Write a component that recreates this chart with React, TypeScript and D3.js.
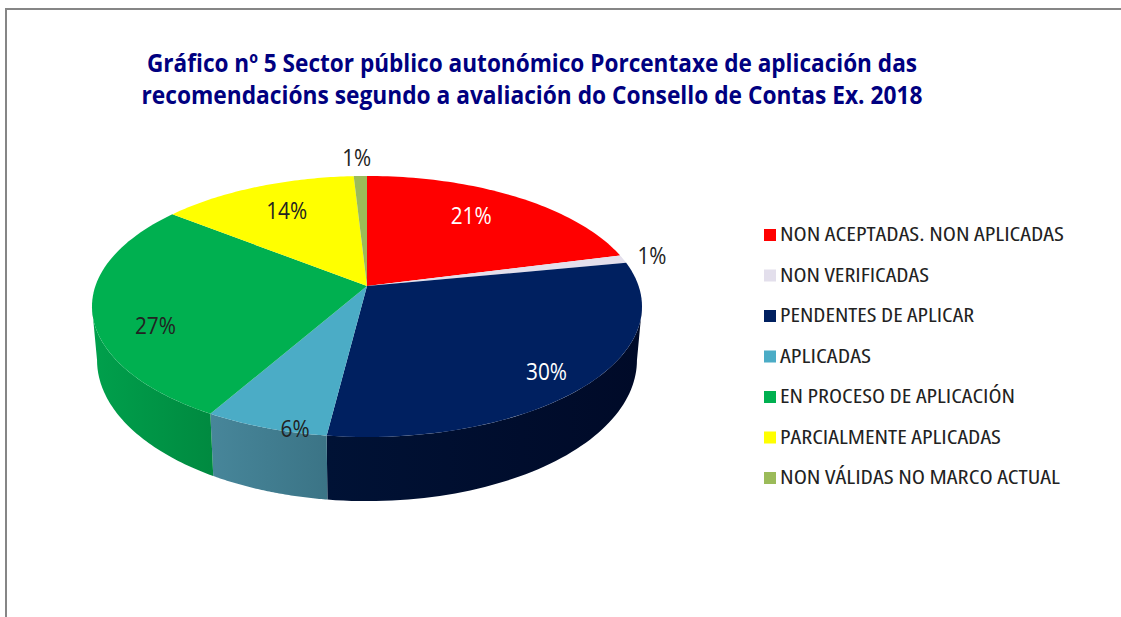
import React from 'react';
import * as d3 from 'd3';

const categories = [
  'NON ACEPTADAS. NON APLICADAS',
  'NON VERIFICADAS',
  'PENDENTES DE APLICAR',
  'APLICADAS',
  'EN PROCESO DE APLICACIÓN',
  'PARCIALMENTE APLICADAS',
  'NON VÁLIDAS NO MARCO ACTUAL',
];
const shares = [21, 1, 30, 6.3, 27.3, 13.5, 0.9];
const topColors = ['#ff0000', '#e3dfec', '#002060', '#4bacc6', '#00b050', '#ffff00', '#9bbb59'];
const wallLeft = ['#b00000', '#a09ca8', '#001235', '#47869a', '#00a04c', '#b0b000', '#6d833e'];
const wallRight = ['#800000', '#807c88', '#000a28', '#3b7486', '#008a40', '#909000', '#5a6c33'];
const labelColors = ['#ffffff', '#222222', '#ffffff', '#222222', '#222222', '#222222', '#222222'];
const titleLines = [
  'Gráfico nº 5 Sector público autonómico Porcentaxe de aplicación das',
  'recomendacións segundo a avaliación do Consello de Contas Ex. 2018',
];
const font = '"Open Sans", "Noto Sans", sans-serif';

// nudges for the data labels, excel places them by hand-ish rules
const labelNudges = [
  [-10, 1],
  [-1, 2],
  [18, 17],
  [1, 43],
  [-7, 23],
  [5, 3],
  [-3, -5],
];
// rendered widths of the legend texts
const legendWidths = [284, 149, 194, 91, 235, 221, 280];

// pie layout, then a perspective projection of the disc (excel 3d pie)
const cx = 367;
const k = 0.157;
const topRim = { y0: 286, a: 127.3, b: 271.6 };
const lowRim = { y0: 338, a: 137.5, b: 266.6 };
// the wall only shows between the two points where the rim turns back
const wallStart = Math.acos(-k);
const wallEnd = 2 * Math.PI - wallStart;

function project(angle: number, r = 1, rim = topRim): [number, number] {
  const u = Math.sin(angle) * r;
  const v = Math.cos(angle) * r;
  const d = 1 + k * v;
  return [cx + (rim.b * u) / d, rim.y0 - (rim.a * v) / d];
}

function App() {
  const pie = d3.pie<number>().value((d) => d).sort(null);
  const arcs = pie(shares);
  const line = d3.line();
  const sample = (a0: number, a1: number, rim = topRim) =>
    d3.range(0, 61).map((i) => project(a0 + ((a1 - a0) * i) / 60, 1, rim));
  const walls = arcs
    .map((a, i) => ({
      i,
      a0: Math.max(a.startAngle, wallStart),
      a1: Math.min(a.endAngle, wallEnd),
    }))
    .filter((w) => w.a0 < w.a1);
  const legendY = d3.scalePoint<string>().domain(categories).range([234, 477]);

  return (
    <svg width={1121} height={617} style={{ position: 'absolute', left: 0, top: 0, background: '#fff' }}>
      <defs>
        {walls.map((w) => {
          const xs = sample(w.a0, w.a1).map((p) => p[0]);
          return (
            <linearGradient
              key={w.i}
              id={`wall${w.i}`}
              gradientUnits="userSpaceOnUse"
              x1={d3.min(xs)}
              x2={d3.max(xs)}
              y1={0}
              y2={0}
            >
              <stop offset="0%" stopColor={wallLeft[w.i]} />
              <stop offset="100%" stopColor={wallRight[w.i]} />
            </linearGradient>
          );
        })}
      </defs>
      <path d="M6,617V9H1121" fill="none" stroke="#868686" strokeWidth={2} />
      {titleLines.map((t, i) => (
        <text
          key={i}
          x={532}
          y={72 + i * 32}
          textAnchor="middle"
          textLength={i ? 781 : 770}
          lengthAdjust="spacingAndGlyphs"
          fontFamily={font}
          fontWeight={700}
          fontSize={25}
          fill="#000080"
        >
          {t}
        </text>
      ))}
      {walls.map((w) => (
        <path
          key={`w${w.i}`}
          d={line([...sample(w.a0, w.a1), ...sample(w.a1, w.a0, lowRim)]) + 'Z'}
          fill={`url(#wall${w.i})`}
        />
      ))}
      {arcs.map((a, i) => (
        <path
          key={`t${i}`}
          d={line([[cx, topRim.y0], ...sample(a.startAngle, a.endAngle)]) + 'Z'}
          fill={topColors[i]}
        />
      ))}
      {arcs.map((a, i) => {
        const mid = (a.startAngle + a.endAngle) / 2;
        // small slices get their label outside the disc
        const [x, y] = project(mid, shares[i] < 2 ? 1.12 : 0.75);
        const text = `${Math.round(shares[i])}%`;
        return (
          <text
            key={`l${i}`}
            x={x + labelNudges[i][0]}
            y={y + labelNudges[i][1]}
            textAnchor="middle"
            dominantBaseline="middle"
            fontFamily={font}
            fontSize={23}
            textLength={text.length > 2 ? 41 : 29}
            lengthAdjust="spacingAndGlyphs"
            fill={labelColors[i]}
          >
            {text}
          </text>
        );
      })}
      {categories.map((c, i) => (
        <g key={c}>
          <rect x={764} y={(legendY(c) as number) - 5} width={12} height={12} fill={topColors[i]} />
          <text
            x={780}
            y={(legendY(c) as number) + 7}
            fontFamily={font}
            fontSize={20.5}
            fill="#222222"
            textLength={legendWidths[i]}
            lengthAdjust="spacingAndGlyphs"
            style={{ fontStretch: 'semi-condensed' }}
          >
            {c}
          </text>
        </g>
      ))}
    </svg>
  );
}

export default App;
